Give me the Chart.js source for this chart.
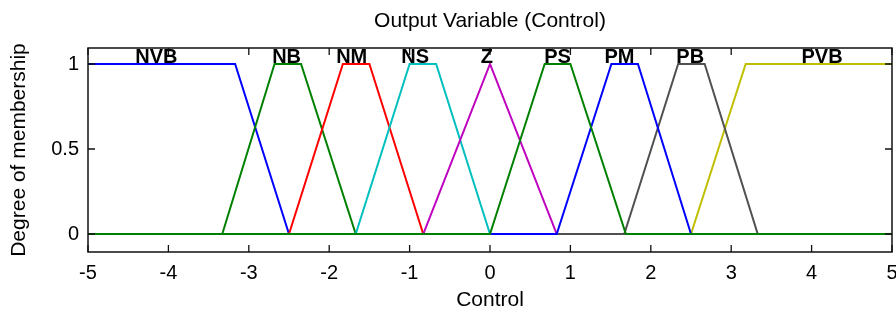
<!DOCTYPE html>
<html>
<head>
<meta charset="utf-8">
<script src="https://cdn.jsdelivr.net/npm/chart.js@4/dist/chart.umd.min.js"></script>
<style>
  html, body { margin: 0; padding: 0; background: #ffffff; }
  canvas { display: block; }
</style>
</head>
<body>
<canvas id="c" width="896" height="314"></canvas>
<script>
// ---- Data ----
const mfNames = ['NVB', 'NB', 'NM', 'NS', 'Z', 'PS', 'PM', 'PB', 'PVB'];

const nvbX = [-5, -3.17, -2.5, 5];              const nvbY = [1, 1, 0, 0];
const nbX  = [-5, -3.33, -2.68, -2.35, -1.67, 5]; const nbY  = [0, 0, 1, 1, 0, 0];
const nmX  = [-5, -2.5, -1.83, -1.5, -0.83, 5];   const nmY  = [0, 0, 1, 1, 0, 0];
const nsX  = [-5, -1.67, -1.0, -0.67, 0, 5];      const nsY  = [0, 0, 1, 1, 0, 0];
const zX   = [-5, -0.83, 0, 0.83, 5];             const zY   = [0, 0, 1, 0, 0];
const psX  = [-5, 0, 0.68, 1.0, 1.69, 5];         const psY  = [0, 0, 1, 1, 0, 0];
const pmX  = [-5, 0.83, 1.51, 1.84, 2.5, 5];      const pmY  = [0, 0, 1, 1, 0, 0];
const pbX  = [-5, 1.67, 2.34, 2.67, 3.33, 5];     const pbY  = [0, 0, 1, 1, 0, 0];
const pvbX = [-5, 2.5, 3.18, 5];                  const pvbY = [0, 0, 1, 1];

// x location (in Control units) of each set's name label
const labelX = [-4.15, -2.53, -1.72, -0.93, -0.04, 0.84, 1.61, 2.49, 4.13];

const xTickValues = [-5, -4, -3, -2, -1, 0, 1, 2, 3, 4, 5];
const yTickValues = [0, 0.5, 1];

// ---- Styles ----
const FONT = '"Liberation Sans", Arial, Helvetica, sans-serif';
const seriesStyle = {
  NVB: { color: '#0000ff', order: 8 },
  NB:  { color: '#008000', order: 7 },
  NM:  { color: '#ff0000', order: 6 },
  NS:  { color: '#00bfbf', order: 5 },
  Z:   { color: '#bf00bf', order: 4 },
  PS:  { color: '#008000', order: 0 },
  PM:  { color: '#0000ff', order: 1 },
  PB:  { color: '#505050', order: 2 },
  PVB: { color: '#bfbf00', order: 3 }
};

const seriesData = {
  NVB: [nvbX, nvbY], NB: [nbX, nbY], NM: [nmX, nmY], NS: [nsX, nsY], Z: [zX, zY],
  PS: [psX, psY], PM: [pmX, pmY], PB: [pbX, pbY], PVB: [pvbX, pvbY]
};

const datasets = mfNames.map(name => {
  const [xs, ys] = seriesData[name];
  return {
    label: name,
    data: xs.map((x, i) => ({ x: x, y: ys[i] })),
    borderColor: seriesStyle[name].color,
    backgroundColor: seriesStyle[name].color,
    borderWidth: 2,
    pointRadius: 0,
    tension: 0,
    fill: false,
    order: seriesStyle[name].order
  };
});

const framePlugin = {
  id: 'framePlugin',
  afterDatasetsDraw(chart) {
    const { ctx, chartArea: a, scales } = chart;
    const xs = scales.x, ys = scales.y;
    ctx.save();
    // set names
    ctx.font = 'bold 20px ' + FONT;
    ctx.fillStyle = '#000';
    ctx.textAlign = 'center';
    ctx.textBaseline = 'alphabetic';
    const yTop = ys.getPixelForValue(1) - 0.5;
    mfNames.forEach((n, i) => {
      ctx.fillText(n, xs.getPixelForValue(labelX[i]), yTop);
    });
    // box
    ctx.strokeStyle = '#111';
    ctx.lineWidth = 1.5;
    ctx.strokeRect(a.left, a.top, a.right - a.left, a.bottom - a.top);
    // inward ticks
    ctx.lineWidth = 1.3;
    ctx.beginPath();
    const tl = 7;
    xs.ticks.forEach(t => {
      const p = xs.getPixelForValue(t.value);
      ctx.moveTo(p, a.bottom); ctx.lineTo(p, a.bottom - tl);
      ctx.moveTo(p, a.top); ctx.lineTo(p, a.top + tl);
    });
    ys.ticks.forEach(t => {
      const p = ys.getPixelForValue(t.value);
      ctx.moveTo(a.left, p); ctx.lineTo(a.left + tl, p);
      ctx.moveTo(a.right, p); ctx.lineTo(a.right - tl, p);
    });
    ctx.stroke();
    ctx.restore();
  }
};

new Chart(document.getElementById('c'), {
  type: 'line',
  data: { datasets: datasets },
  plugins: [framePlugin],
  options: {
    responsive: false,
    animation: false,
    devicePixelRatio: 1,
    layout: { padding: { left: 0, right: 4, top: 0, bottom: 0 } },
    plugins: {
      legend: { display: false },
      tooltip: { enabled: false },
      title: {
        display: true,
        fullSize: false,
        text: 'Output Variable (Control)',
        color: '#000',
        font: { family: FONT, size: 21, weight: 'normal' },
        padding: { top: 9, bottom: 13.8 }
      }
    },
    scales: {
      x: {
        type: 'linear',
        min: -5, max: 5,
        grid: { display: false, drawTicks: false },
        border: { display: false },
        afterBuildTicks: s => { s.ticks = xTickValues.map(v => ({ value: v })); },
        afterFit: s => { s.height = 62; s.paddingLeft = 0; s.paddingRight = 0; },
        ticks: {
          padding: 9,
          color: '#000',
          font: { family: FONT, size: 20 },
          maxRotation: 0,
          callback: v => String(v)
        },
        title: {
          display: true,
          text: 'Control',
          color: '#000',
          font: { family: FONT, size: 21 },
          padding: { top: 0, bottom: 1 }
        }
      },
      y: {
        type: 'linear',
        min: -0.10588, max: 1.0941,
        grid: { display: false, drawTicks: false },
        border: { display: false },
        afterBuildTicks: s => { s.ticks = yTickValues.map(v => ({ value: v })); },
        afterFit: s => { s.width = 88; s.paddingTop = 0; s.paddingBottom = 0; },
        ticks: {
          padding: 9,
          color: '#000',
          font: { family: FONT, size: 20 },
          callback: v => String(v)
        },
        title: {
          display: true,
          text: 'Degree of membership',
          color: '#000',
          font: { family: FONT, size: 21 },
          padding: { top: 7, bottom: 0 }
        }
      }
    }
  }
});
</script>
</body>
</html>
